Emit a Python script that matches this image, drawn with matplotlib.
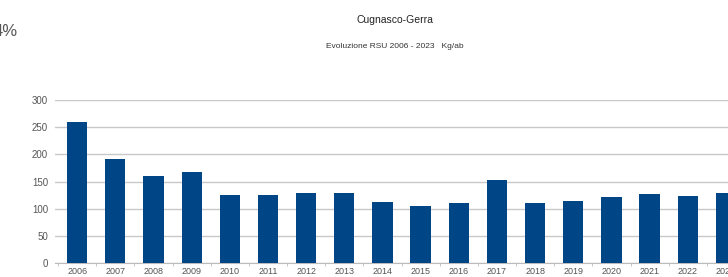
import matplotlib.pyplot as plt

plt.rcParams['font.family'] = ['Liberation Sans', 'DejaVu Sans']

years = [str(y) for y in range(2006, 2024)]
kg_per_inhabitant = [260, 192, 161, 168, 125, 126, 129, 129, 112, 105,
                     110, 152, 111, 115, 121, 127, 124, 128]
y_ticks = [0, 50, 100, 150, 200, 250, 300]

fig = plt.figure(figsize=(7.28, 2.77), dpi=100)
ax = fig.add_axes([55/728, 14/277, 690/728, 163/277])

x = range(len(years))
ax.bar(x, kg_per_inhabitant, width=0.53, color='#004586', zorder=3)

ax.set_xlim(-0.58, 17.5)
ax.set_ylim(0, 300)
ax.set_yticks(y_ticks)
ax.set_xticks(list(x))
ax.set_xticklabels(years)
ax.set_xticks([i + 0.5 for i in range(-1, len(years))], minor=True)
ax.tick_params(axis='x', which='major', length=0, labelsize=6.5, colors='#555555', pad=3)
ax.tick_params(axis='x', which='minor', length=2, color='#bbbbbb')
ax.tick_params(axis='y', length=0, labelsize=7, colors='#555555', pad=5)

ax.grid(axis='y', color='#c8c8c8', linewidth=1.0, zorder=0)
for side in ['top', 'right', 'left']:
    ax.spines[side].set_visible(False)
ax.spines['bottom'].set_color('#bbbbbb')

fig.text(395/728, 1 - 20/277, 'Cugnasco-Gerra', ha='center', va='center', fontsize=7.5, color='#222222')
fig.text(395/728, 1 - 47/277, 'Evoluzione RSU 2006 - 2023   Kg/ab', ha='center', va='center', fontsize=6, color='#333333')
fig.text(-6/728, 1 - 31/277, '4%', ha='left', va='center', fontsize=12, color='#555555')

fig.savefig('out.png', dpi=100)
